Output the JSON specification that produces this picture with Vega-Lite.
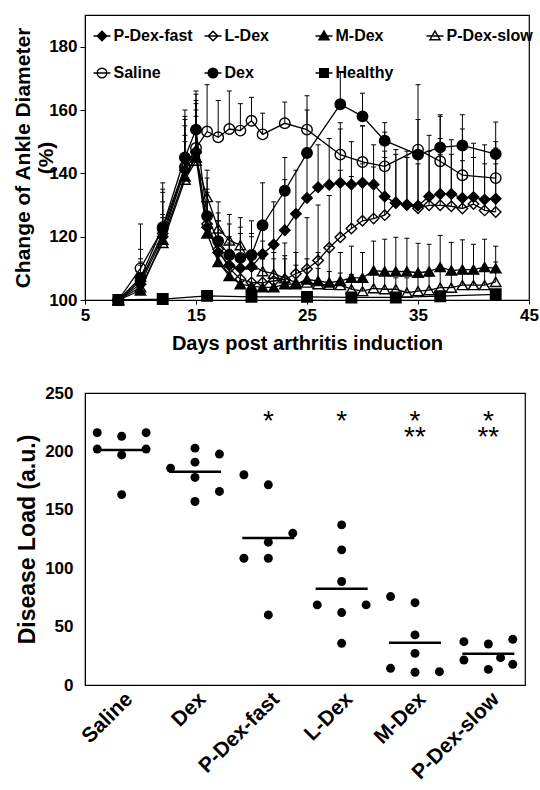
{
  "$schema": "https://vega.github.io/schema/vega-lite/v6.json",
  "background": "white",
  "padding": {"left": 12, "top": 14, "right": 0, "bottom": 0},
  "spacing": 29,
  "config": {
    "font": "Liberation Sans",
    "view": {"stroke": "black", "strokeWidth": 1.2},
    "axis": {
      "labelFont": "Liberation Sans", "labelFontWeight": "bold", "labelColor": "black",
      "titleFont": "Liberation Sans", "titleFontWeight": "bold", "titleColor": "black",
      "domainColor": "black", "tickColor": "black", "grid": false
    },
    "legend": {"labelFont": "Liberation Sans"}
  },
  "datasets": {
    "ankle": [
      {"series":"Saline","day":8,"mean":100,"upper":100},
      {"series":"Saline","day":10,"mean":110,"upper":124},
      {"series":"Saline","day":12,"mean":122.5,"upper":137},
      {"series":"Saline","day":14,"mean":142,"upper":158},
      {"series":"Saline","day":15,"mean":148,"upper":166},
      {"series":"Saline","day":16,"mean":153.2,"upper":168},
      {"series":"Saline","day":17,"mean":151.4,"upper":163},
      {"series":"Saline","day":18,"mean":154,"upper":166},
      {"series":"Saline","day":19,"mean":153.5,"upper":162},
      {"series":"Saline","day":20,"mean":156.6,"upper":164},
      {"series":"Saline","day":21,"mean":152.3,"upper":159},
      {"series":"Saline","day":23,"mean":155.8,"upper":162.5},
      {"series":"Saline","day":25,"mean":153.8,"upper":164.5},
      {"series":"Saline","day":28,"mean":145.9,"upper":156},
      {"series":"Saline","day":30,"mean":143.6,"upper":155},
      {"series":"Saline","day":32,"mean":142.2,"upper":153},
      {"series":"Saline","day":35,"mean":147.5,"upper":168},
      {"series":"Saline","day":37,"mean":143.8,"upper":158},
      {"series":"Saline","day":39,"mean":139.4,"upper":154},
      {"series":"Saline","day":42,"mean":138.5,"upper":150},
      {"series":"Dex","day":8,"mean":100,"upper":100},
      {"series":"Dex","day":10,"mean":107,"upper":112},
      {"series":"Dex","day":12,"mean":123,"upper":135},
      {"series":"Dex","day":14,"mean":145,"upper":160},
      {"series":"Dex","day":15,"mean":153.8,"upper":165},
      {"series":"Dex","day":16,"mean":126.5,"upper":141},
      {"series":"Dex","day":17,"mean":118.6,"upper":131},
      {"series":"Dex","day":18,"mean":114.2,"upper":127},
      {"series":"Dex","day":19,"mean":113.3,"upper":126},
      {"series":"Dex","day":20,"mean":114.2,"upper":125},
      {"series":"Dex","day":21,"mean":123.6,"upper":137},
      {"series":"Dex","day":23,"mean":134.5,"upper":145},
      {"series":"Dex","day":25,"mean":146.4,"upper":160},
      {"series":"Dex","day":28,"mean":161.8,"upper":172},
      {"series":"Dex","day":30,"mean":158,"upper":165.3},
      {"series":"Dex","day":32,"mean":150.3,"upper":156},
      {"series":"Dex","day":35,"mean":145.9,"upper":157},
      {"series":"Dex","day":37,"mean":148.2,"upper":158.5},
      {"series":"Dex","day":39,"mean":148.8,"upper":158.5},
      {"series":"Dex","day":42,"mean":146.1,"upper":156.2},
      {"series":"P-Dex-fast","day":8,"mean":100,"upper":100},
      {"series":"P-Dex-fast","day":10,"mean":105,"upper":113},
      {"series":"P-Dex-fast","day":12,"mean":120,"upper":131},
      {"series":"P-Dex-fast","day":14,"mean":141,"upper":155},
      {"series":"P-Dex-fast","day":15,"mean":146.5,"upper":162},
      {"series":"P-Dex-fast","day":16,"mean":123,"upper":135},
      {"series":"P-Dex-fast","day":17,"mean":115,"upper":125},
      {"series":"P-Dex-fast","day":18,"mean":111,"upper":120},
      {"series":"P-Dex-fast","day":19,"mean":110,"upper":121},
      {"series":"P-Dex-fast","day":20,"mean":110.5,"upper":120},
      {"series":"P-Dex-fast","day":21,"mean":114.5,"upper":124},
      {"series":"P-Dex-fast","day":22,"mean":117.5,"upper":131},
      {"series":"P-Dex-fast","day":23,"mean":122,"upper":138},
      {"series":"P-Dex-fast","day":24,"mean":127.2,"upper":141},
      {"series":"P-Dex-fast","day":25,"mean":132.2,"upper":148},
      {"series":"P-Dex-fast","day":26,"mean":135.6,"upper":149},
      {"series":"P-Dex-fast","day":27,"mean":136.4,"upper":151},
      {"series":"P-Dex-fast","day":28,"mean":137,"upper":154},
      {"series":"P-Dex-fast","day":29,"mean":136.5,"upper":150},
      {"series":"P-Dex-fast","day":30,"mean":137,"upper":155},
      {"series":"P-Dex-fast","day":31,"mean":136.5,"upper":149},
      {"series":"P-Dex-fast","day":32,"mean":132.7,"upper":147},
      {"series":"P-Dex-fast","day":33,"mean":130.6,"upper":147.5},
      {"series":"P-Dex-fast","day":34,"mean":130.1,"upper":147},
      {"series":"P-Dex-fast","day":35,"mean":129.8,"upper":146},
      {"series":"P-Dex-fast","day":36,"mean":132.7,"upper":152},
      {"series":"P-Dex-fast","day":37,"mean":133.5,"upper":151},
      {"series":"P-Dex-fast","day":38,"mean":133.5,"upper":150.6},
      {"series":"P-Dex-fast","day":39,"mean":132.2,"upper":150},
      {"series":"P-Dex-fast","day":40,"mean":132.5,"upper":149.5},
      {"series":"P-Dex-fast","day":41,"mean":131.7,"upper":149},
      {"series":"P-Dex-fast","day":42,"mean":132,"upper":148},
      {"series":"L-Dex","day":8,"mean":100,"upper":100},
      {"series":"L-Dex","day":10,"mean":106,"upper":116},
      {"series":"L-Dex","day":12,"mean":121,"upper":134},
      {"series":"L-Dex","day":14,"mean":142,"upper":157},
      {"series":"L-Dex","day":15,"mean":147,"upper":163},
      {"series":"L-Dex","day":16,"mean":124,"upper":134},
      {"series":"L-Dex","day":17,"mean":116,"upper":125},
      {"series":"L-Dex","day":18,"mean":110,"upper":118},
      {"series":"L-Dex","day":19,"mean":106.6,"upper":114},
      {"series":"L-Dex","day":20,"mean":105.5,"upper":113},
      {"series":"L-Dex","day":21,"mean":105.5,"upper":113},
      {"series":"L-Dex","day":22,"mean":106,"upper":115},
      {"series":"L-Dex","day":23,"mean":106.5,"upper":118},
      {"series":"L-Dex","day":24,"mean":108.3,"upper":127},
      {"series":"L-Dex","day":25,"mean":109.8,"upper":126},
      {"series":"L-Dex","day":26,"mean":112.5,"upper":130},
      {"series":"L-Dex","day":27,"mean":116.5,"upper":133},
      {"series":"L-Dex","day":28,"mean":119.8,"upper":141},
      {"series":"L-Dex","day":29,"mean":122.6,"upper":139},
      {"series":"L-Dex","day":30,"mean":125,"upper":143},
      {"series":"L-Dex","day":31,"mean":125.7,"upper":142},
      {"series":"L-Dex","day":32,"mean":126.8,"upper":145},
      {"series":"L-Dex","day":33,"mean":130.8,"upper":146},
      {"series":"L-Dex","day":34,"mean":130.1,"upper":145},
      {"series":"L-Dex","day":35,"mean":129,"upper":143},
      {"series":"L-Dex","day":36,"mean":129.9,"upper":147},
      {"series":"L-Dex","day":37,"mean":129.9,"upper":146},
      {"series":"L-Dex","day":38,"mean":129.6,"upper":146},
      {"series":"L-Dex","day":39,"mean":128.9,"upper":144},
      {"series":"L-Dex","day":40,"mean":130.3,"upper":145},
      {"series":"L-Dex","day":41,"mean":128.3,"upper":143},
      {"series":"L-Dex","day":42,"mean":127.8,"upper":143},
      {"series":"M-Dex","day":8,"mean":100,"upper":100},
      {"series":"M-Dex","day":10,"mean":103,"upper":108},
      {"series":"M-Dex","day":12,"mean":119,"upper":127},
      {"series":"M-Dex","day":14,"mean":139,"upper":150},
      {"series":"M-Dex","day":15,"mean":145,"upper":160},
      {"series":"M-Dex","day":16,"mean":121,"upper":131},
      {"series":"M-Dex","day":17,"mean":112,"upper":120},
      {"series":"M-Dex","day":18,"mean":107.6,"upper":116},
      {"series":"M-Dex","day":19,"mean":105,"upper":114},
      {"series":"M-Dex","day":20,"mean":104.4,"upper":114},
      {"series":"M-Dex","day":21,"mean":104,"upper":113},
      {"series":"M-Dex","day":22,"mean":104,"upper":113},
      {"series":"M-Dex","day":23,"mean":105,"upper":114},
      {"series":"M-Dex","day":24,"mean":105,"upper":115},
      {"series":"M-Dex","day":25,"mean":106.5,"upper":113},
      {"series":"M-Dex","day":26,"mean":106,"upper":115},
      {"series":"M-Dex","day":27,"mean":105.5,"upper":117},
      {"series":"M-Dex","day":28,"mean":106,"upper":115},
      {"series":"M-Dex","day":29,"mean":107,"upper":117},
      {"series":"M-Dex","day":30,"mean":107,"upper":115},
      {"series":"M-Dex","day":31,"mean":109.3,"upper":118.6},
      {"series":"M-Dex","day":32,"mean":109,"upper":119.2},
      {"series":"M-Dex","day":33,"mean":109,"upper":119.8},
      {"series":"M-Dex","day":34,"mean":109,"upper":119.5},
      {"series":"M-Dex","day":35,"mean":108.6,"upper":117.9},
      {"series":"M-Dex","day":36,"mean":109,"upper":117.6},
      {"series":"M-Dex","day":37,"mean":110.4,"upper":120.4},
      {"series":"M-Dex","day":38,"mean":109.3,"upper":118.2},
      {"series":"M-Dex","day":39,"mean":109.6,"upper":119},
      {"series":"M-Dex","day":40,"mean":109.6,"upper":117.6},
      {"series":"M-Dex","day":41,"mean":110.4,"upper":119.2},
      {"series":"M-Dex","day":42,"mean":110,"upper":117},
      {"series":"P-Dex-slow","day":8,"mean":100,"upper":100},
      {"series":"P-Dex-slow","day":10,"mean":104,"upper":111},
      {"series":"P-Dex-slow","day":12,"mean":118,"upper":126},
      {"series":"P-Dex-slow","day":14,"mean":138,"upper":152},
      {"series":"P-Dex-slow","day":15,"mean":144,"upper":158},
      {"series":"P-Dex-slow","day":16,"mean":132.5,"upper":138.5},
      {"series":"P-Dex-slow","day":17,"mean":122.6,"upper":127.5},
      {"series":"P-Dex-slow","day":18,"mean":118.8,"upper":124},
      {"series":"P-Dex-slow","day":19,"mean":117.3,"upper":123},
      {"series":"P-Dex-slow","day":20,"mean":111.2,"upper":121},
      {"series":"P-Dex-slow","day":21,"mean":109.1,"upper":118.6},
      {"series":"P-Dex-slow","day":22,"mean":108.3,"upper":117},
      {"series":"P-Dex-slow","day":23,"mean":106.9,"upper":113},
      {"series":"P-Dex-slow","day":24,"mean":105.5,"upper":111},
      {"series":"P-Dex-slow","day":25,"mean":105.5,"upper":110},
      {"series":"P-Dex-slow","day":26,"mean":105,"upper":110},
      {"series":"P-Dex-slow","day":27,"mean":104.8,"upper":109},
      {"series":"P-Dex-slow","day":28,"mean":104.7,"upper":108.5},
      {"series":"P-Dex-slow","day":29,"mean":103.4,"upper":108},
      {"series":"P-Dex-slow","day":30,"mean":102.8,"upper":107.5},
      {"series":"P-Dex-slow","day":31,"mean":103.7,"upper":108},
      {"series":"P-Dex-slow","day":32,"mean":103.4,"upper":108},
      {"series":"P-Dex-slow","day":33,"mean":103.4,"upper":107},
      {"series":"P-Dex-slow","day":34,"mean":102.3,"upper":107},
      {"series":"P-Dex-slow","day":35,"mean":102.8,"upper":107.5},
      {"series":"P-Dex-slow","day":36,"mean":103.1,"upper":107.5},
      {"series":"P-Dex-slow","day":37,"mean":103.9,"upper":109},
      {"series":"P-Dex-slow","day":38,"mean":103.9,"upper":108},
      {"series":"P-Dex-slow","day":39,"mean":104.7,"upper":110},
      {"series":"P-Dex-slow","day":40,"mean":104.7,"upper":110},
      {"series":"P-Dex-slow","day":41,"mean":104.7,"upper":111},
      {"series":"P-Dex-slow","day":42,"mean":105.7,"upper":112},
      {"series":"Healthy","day":8,"mean":100,"upper":100.5},
      {"series":"Healthy","day":12,"mean":100.3,"upper":100.8},
      {"series":"Healthy","day":16,"mean":101.3,"upper":101.8},
      {"series":"Healthy","day":20,"mean":101,"upper":101.5},
      {"series":"Healthy","day":25,"mean":101,"upper":101.5},
      {"series":"Healthy","day":29,"mean":100.8,"upper":101.3},
      {"series":"Healthy","day":33,"mean":100.8,"upper":101.3},
      {"series":"Healthy","day":37,"mean":101.2,"upper":101.7},
      {"series":"Healthy","day":42,"mean":101.8,"upper":102.3}
    ],
    "load": [
      {"group":"Saline","col":"L","load":216},
      {"group":"Saline","col":"C","load":213},
      {"group":"Saline","col":"R","load":216},
      {"group":"Saline","col":"L","load":202},
      {"group":"Saline","col":"C","load":197},
      {"group":"Saline","col":"R","load":202},
      {"group":"Saline","col":"C","load":163},
      {"group":"Dex","col":"C","load":202.8},
      {"group":"Dex","col":"R","load":197.7},
      {"group":"Dex","col":"C","load":190.8},
      {"group":"Dex","col":"L","load":185.7},
      {"group":"Dex","col":"C","load":177.7},
      {"group":"Dex","col":"R","load":165.7},
      {"group":"Dex","col":"C","load":157.1},
      {"group":"P-Dex-fast","col":"L","load":180},
      {"group":"P-Dex-fast","col":"C","load":171.4},
      {"group":"P-Dex-fast","col":"R","load":130},
      {"group":"P-Dex-fast","col":"C","load":122.3},
      {"group":"P-Dex-fast","col":"L","load":108.5},
      {"group":"P-Dex-fast","col":"C","load":108.5},
      {"group":"P-Dex-fast","col":"C","load":60},
      {"group":"L-Dex","col":"C","load":137.1},
      {"group":"L-Dex","col":"C","load":115.7},
      {"group":"L-Dex","col":"C","load":88.6},
      {"group":"L-Dex","col":"L","load":68.6},
      {"group":"L-Dex","col":"R","load":68.6},
      {"group":"L-Dex","col":"C","load":62},
      {"group":"L-Dex","col":"C","load":35.7},
      {"group":"M-Dex","col":"L","load":75.7},
      {"group":"M-Dex","col":"C","load":70.5},
      {"group":"M-Dex","col":"C","load":42.9},
      {"group":"M-Dex","col":"C","load":27.1},
      {"group":"M-Dex","col":"L","load":14.3},
      {"group":"M-Dex","col":"C","load":10.9},
      {"group":"M-Dex","col":"R","load":11.4},
      {"group":"P-Dex-slow","col":"L","load":37.1},
      {"group":"P-Dex-slow","col":"C","load":35.1},
      {"group":"P-Dex-slow","col":"R","load":39.1},
      {"group":"P-Dex-slow","col":"L","load":21.4},
      {"group":"P-Dex-slow","col":"CR","load":23.4},
      {"group":"P-Dex-slow","col":"R","load":17.7},
      {"group":"P-Dex-slow","col":"C","load":13.4}
    ],
    "stars": [
      {"group":"P-Dex-fast","sig":"*","at":228.5},
      {"group":"L-Dex","sig":"*","at":228.5},
      {"group":"M-Dex","sig":"*\n**","at":228.5},
      {"group":"P-Dex-slow","sig":"*\n**","at":228.5}
    ]
  },
  "vconcat": [
    {
      "width": 444,
      "height": 285,
      "data": {"name": "ankle"},
      "layer": [
        {
          "mark": {"type": "rule", "color": "black", "strokeWidth": 1},
          "encoding": {
            "x": {"field": "day", "type": "quantitative", "scale": {"domain": [5, 45], "nice": false},
              "axis": {"values": [5, 15, 25, 35, 45], "title": "Days post arthritis induction", "titleFontSize": 20,
                "labelFontSize": 17, "tickSize": 4, "labelPadding": 3, "titlePadding": 10, "labelFlush": false}},
            "y": {"field": "mean", "type": "quantitative", "scale": {"domain": [100, 190], "nice": false, "zero": false},
              "axis": {"values": [100, 120, 140, 160, 180], "title": ["Change of Ankle Diameter", "(%)"], "titleFontSize": 21,
                "labelFontSize": 17, "tickSize": 5, "labelPadding": 3, "titlePadding": -8}},
            "y2": {"field": "upper"},
            "detail": {"field": "series"}
          }
        },
        {
          "mark": {"type": "tick", "orient": "horizontal", "color": "black", "size": 5, "thickness": 1, "opacity": 1},
          "encoding": {
            "x": {"field": "day", "type": "quantitative"},
            "y": {"field": "upper", "type": "quantitative"}
          }
        },
        {
          "mark": {"type": "line", "color": "black", "strokeWidth": 1.3},
          "encoding": {
            "x": {"field": "day", "type": "quantitative"},
            "y": {"field": "mean", "type": "quantitative"},
            "detail": {"field": "series"},
            "order": {"field": "day"}
          }
        },
        {
          "mark": {"type": "point", "stroke": "black", "strokeWidth": 1.4, "size": 110, "opacity": 1},
          "encoding": {
            "x": {"field": "day", "type": "quantitative"},
            "y": {"field": "mean", "type": "quantitative"},
            "shape": {"field": "series", "type": "nominal", "legend": null,
              "scale": {"domain": ["P-Dex-fast", "L-Dex", "M-Dex", "P-Dex-slow", "Saline", "Dex", "Healthy"],
                "range": ["diamond", "diamond", "triangle-up", "triangle-up", "circle", "circle", "square"]}},
            "fill": {"field": "series", "type": "nominal", "legend": null,
              "scale": {"domain": ["P-Dex-fast", "L-Dex", "M-Dex", "P-Dex-slow", "Saline", "Dex", "Healthy"],
                "range": ["black", "transparent", "black", "transparent", "transparent", "black", "black"]}}
          }
        },
        {
          "transform": [{"filter": "false"}],
          "mark": {"type": "point", "stroke": "black", "strokeWidth": 1.4, "size": 100, "opacity": 1},
          "encoding": {
            "shape": {"field": "series", "type": "nominal",
              "scale": {"domain": ["P-Dex-fast", "L-Dex", "M-Dex", "P-Dex-slow", "Saline", "Dex", "Healthy"],
                "range": [
                  "M-1.7,0H1.7M0,-0.95L0.95,0L0,0.95L-0.95,0Z",
                  "M-1.7,0H1.7M0,-0.95L0.95,0L0,0.95L-0.95,0Z",
                  "M-1.7,0H1.7M0,-1L1,0.75L-1,0.75Z",
                  "M-1.7,0H1.7M0,-1L1,0.75L-1,0.75Z",
                  "M-1.7,0H1.7M-0.95,0A0.95,0.95,0,1,1,0.95,0A0.95,0.95,0,1,1,-0.95,0Z",
                  "M-1.7,0H1.7M-0.95,0A0.95,0.95,0,1,1,0.95,0A0.95,0.95,0,1,1,-0.95,0Z",
                  "M-1.7,0H1.7M-0.85,-0.85H0.85V0.85H-0.85Z"
                ]},
              "legend": {"title": null, "orient": "none", "legendX": 9, "legendY": 13, "direction": "horizontal",
                "columns": 4, "gridAlign": "all", "columnPadding": 1, "rowPadding": 21,
                "labelFontSize": 16, "labelFontWeight": "bold", "labelColor": "black", "labelOffset": 3.5, "labelLimit": 200}},
            "fill": {"field": "series", "type": "nominal",
              "scale": {"domain": ["P-Dex-fast", "L-Dex", "M-Dex", "P-Dex-slow", "Saline", "Dex", "Healthy"],
                "range": ["black", "transparent", "black", "transparent", "transparent", "black", "black"]},
              "legend": {"title": null, "orient": "none", "legendX": 9, "legendY": 13, "direction": "horizontal",
                "columns": 4, "gridAlign": "all", "columnPadding": 1, "rowPadding": 21,
                "labelFontSize": 16, "labelFontWeight": "bold", "labelColor": "black", "labelOffset": 3.5, "labelLimit": 200}}
          }
        }
      ],
      "resolve": {"scale": {"shape": "independent", "fill": "independent"}}
    },
    {
      "width": 440,
      "height": 292,
      "layer": [
        {
          "data": {"name": "load"},
          "mark": {"type": "point", "filled": true, "color": "black", "size": 80, "opacity": 1},
          "encoding": {
            "x": {"field": "group", "type": "nominal",
              "sort": ["Saline", "Dex", "P-Dex-fast", "L-Dex", "M-Dex", "P-Dex-slow"],
              "scale": {"paddingInner": 0, "paddingOuter": 0},
              "axis": {"title": null, "labelAngle": -45, "labelFontSize": 21, "labelPadding": 3, "ticks": false}},
            "xOffset": {"field": "col", "type": "nominal",
              "scale": {"domain": ["L", "LC", "C", "CR", "R"], "paddingOuter": 2.7, "paddingInner": 0}},
            "y": {"field": "load", "type": "quantitative", "scale": {"domain": [0, 250], "nice": false},
              "axis": {"values": [0, 50, 100, 150, 200, 250], "title": "Disease Load (a.u.)", "titleFontSize": 23,
                "labelFontSize": 17, "tickSize": 0, "labelPadding": 12, "titlePadding": 5}}
          }
        },
        {
          "data": {"name": "load"},
          "mark": {"type": "tick", "color": "black", "thickness": 2.5, "size": 52, "opacity": 1},
          "encoding": {
            "x": {"field": "group", "type": "nominal",
              "sort": ["Saline", "Dex", "P-Dex-fast", "L-Dex", "M-Dex", "P-Dex-slow"]},
            "y": {"field": "load", "aggregate": "mean", "type": "quantitative"}
          }
        },
        {
          "data": {"name": "stars"},
          "mark": {"type": "text", "font": "Liberation Sans", "fontSize": 28, "color": "black", "baseline": "alphabetic",
            "dy": 12, "lineBreak": "\n", "lineHeight": 16},
          "encoding": {
            "x": {"field": "group", "type": "nominal",
              "sort": ["Saline", "Dex", "P-Dex-fast", "L-Dex", "M-Dex", "P-Dex-slow"]},
            "y": {"field": "at", "type": "quantitative"},
            "text": {"field": "sig"}
          }
        }
      ]
    }
  ]
}
